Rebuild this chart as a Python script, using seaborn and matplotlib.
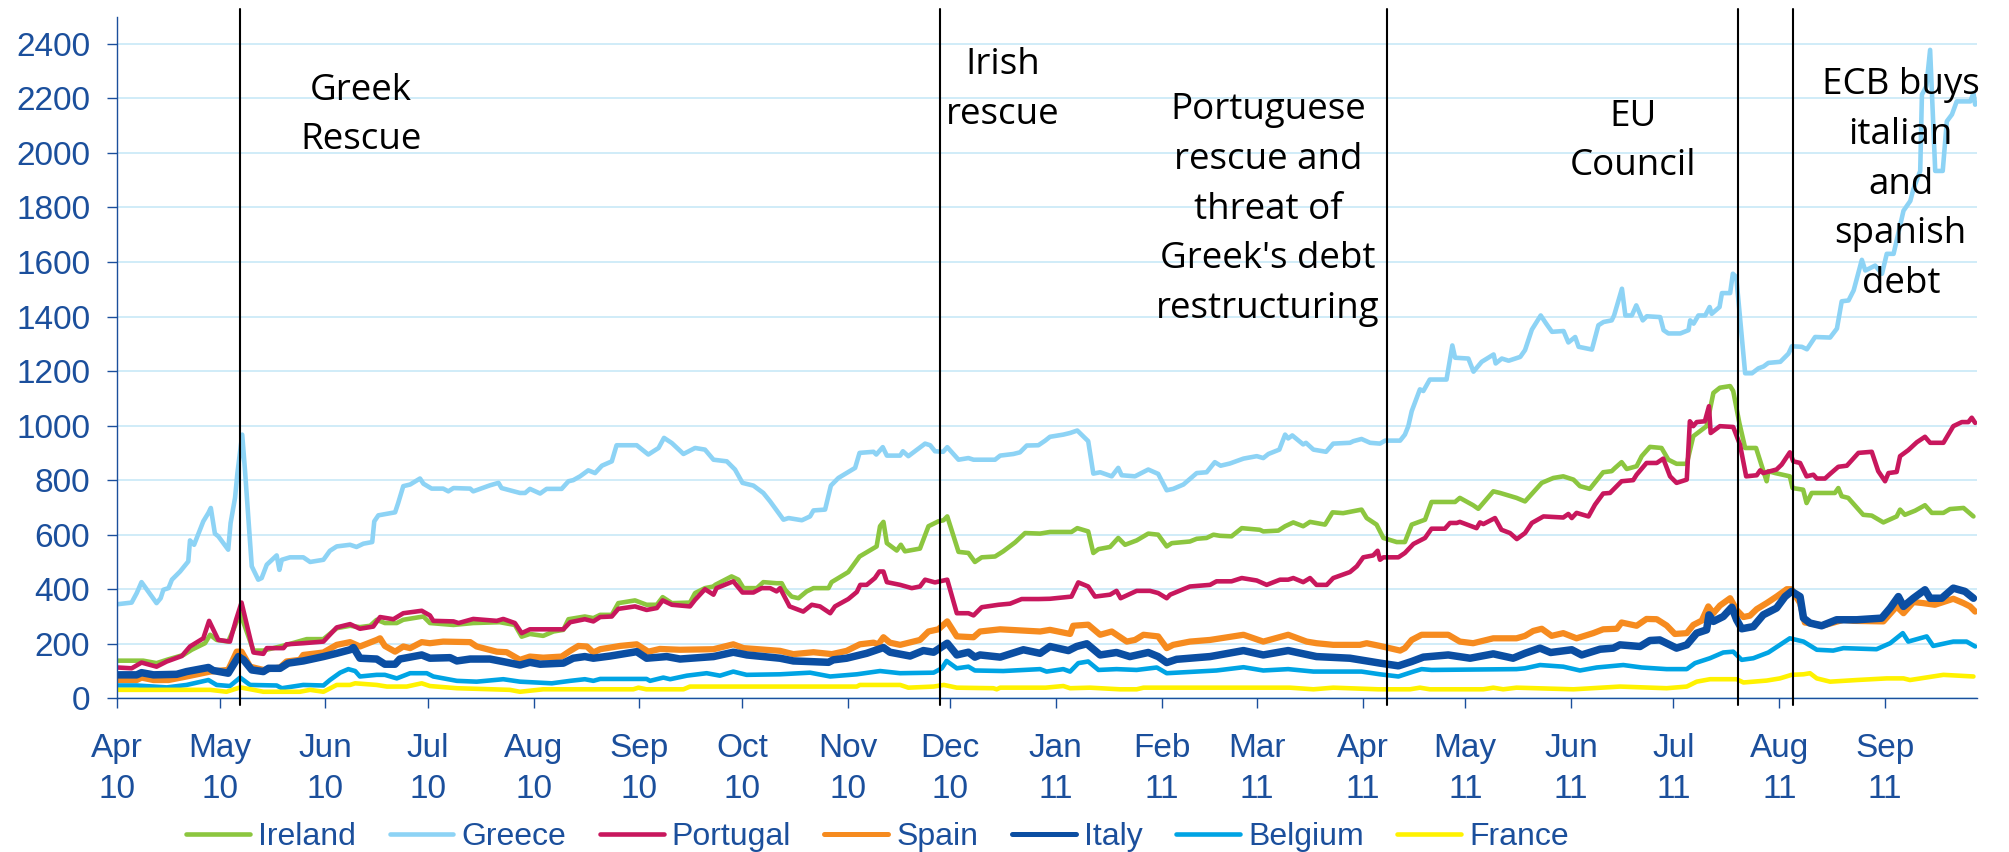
import matplotlib
matplotlib.use("Agg")
import matplotlib.pyplot as plt
import numpy as np
import pandas as pd
import seaborn as sns

# ---------------- data (day offsets from 1 Apr 2010, spread in bp) ----------------
START = "2010-04-01"
countries = ["Ireland", "Greece", "Portugal", "Spain", "Italy", "Belgium", "France"]

ireland_days = [0, 7.6, 11.5, 15, 19.4, 21.8, 25.7, 27.2, 29.1, 32.5, 34, 36, 39.9, 42.8, 49.6, 55.5, 60.4, 64.3, 68.2, 71.1, 74.1, 76, 78.4, 81.9, 83.8, 89.7, 91.6, 98.5, 104.3, 112.1, 116.5, 118.5, 120.9, 124.8, 127.8, 130.7, 132.2, 137,
                139.5, 141.5, 144.9, 146.8, 151.7, 155.1, 158.1, 159.8, 162.5, 167.8, 169.3, 172.2, 174.7, 175.2, 180, 182, 183.5, 187.4, 189.3, 193.2, 194.7, 195.7, 197.6, 199.6, 202, 204, 208.4, 209.3, 211.3, 214.2, 217.5, 222.5, 223.5, 224.5, 225.5, 228.4, 229.6, 230.8, 235.2, 237.7, 240.6, 242.1, 243.2, 246.5, 249.4, 251.3, 253.3, 257.2, 259.6, 263.1, 266, 270.4,
                273.3, 279.6, 281.3, 284.5, 286, 287.5, 290.9, 293.3, 295.3, 298.7, 302.1, 305, 307.5, 309, 314.3, 316.3, 319.2, 321.2, 323.1, 326.5, 329.5, 334.8, 335.8, 340.2, 342.2, 344.6, 347.5, 349.5, 353.9, 356.1, 359.2, 364.6, 366.1, 369, 371, 374.9, 377.3, 379.3, 383.2, 385.1, 392, 393.4, 397.3, 398.8, 403.2, 405.2, 410,
                412.5, 417.4, 420.8, 423.7, 426.7, 428.6, 431.5, 435.4, 437.9, 438.9, 440.8, 442.3, 445.2, 446.7, 449.1, 452.5, 454.5, 456.9, 459.9, 461.8, 465.7, 467.7, 469.6, 472.6, 473.5, 475.3, 477, 480.2, 483.3, 483.8, 485.8, 490.1, 490.9, 494, 495, 496.5, 503.3, 504.3, 505.3, 507.2, 511.6, 514.1, 517.5, 521.4, 522.4, 523.8, 526.8, 529.7, 531.7, 535.1, 537, 541, 543.9]
ireland_vals = [138, 138, 129, 143, 159, 178, 202, 233, 214, 208, 251, 312, 175, 175, 196, 217, 217, 257, 266, 261, 266, 288, 276, 276, 288, 300, 276, 269, 276, 279, 269, 226, 236, 229, 245, 251, 290, 300,
                294, 306, 306, 349, 359, 343, 343, 371, 349, 351, 386, 404, 410, 416, 447, 435, 404, 404, 426, 422, 422, 398, 373, 367, 392, 404, 404, 426, 441, 463, 520, 557, 631, 647, 569, 542, 563, 539, 549, 631, 649, 653, 667, 537, 533, 500, 517, 520, 539, 572, 606, 604,
                610, 610, 624, 612, 533, 547, 555, 588, 563, 579, 604, 600, 557, 569, 575, 585, 588, 600, 596, 594, 624, 618, 612, 615, 631, 645, 631, 647, 637, 682, 679, 692, 661, 637, 588, 573, 573, 637, 655, 720, 720, 735, 708, 695, 759, 753, 735,
                722, 790, 808, 814, 802, 778, 768, 829, 833, 845, 866, 841, 851, 888, 922, 918, 875, 860, 860, 961, 998, 1120, 1139, 1145, 1127, 1010, 918, 918, 796, 833, 826, 814, 771, 765, 716, 753, 753, 771, 741, 735, 673, 670, 645, 667, 692, 673, 688, 708, 680, 680, 694, 698, 667]

greece_days = [0, 4.2, 5.7, 7.1, 11.5, 12.7, 13.5, 15, 16, 18.4, 20.8, 21.3, 22.5, 25.2, 26.7, 27.4, 28.6, 29.6, 32.5, 33.2, 34.5, 35.2, 36.6, 37.4, 39.4, 41.3, 42.3, 43.8, 46.7, 47.5, 48.2, 50.6, 54.5, 56.5, 60.4, 62.3, 64.3, 68.2, 70.1, 72.1, 74.7, 75.3, 76.5, 81.4, 82.3, 83.8, 85.8, 88.7, 89.7, 92.1, 95.5, 97, 98.5, 103.4, 104.3, 109.2, 111.7, 112.6, 118, 119.5, 120.9, 123.9, 125.8, 130.2, 132.2, 133.6,
               135.6, 138, 140, 142, 144.9, 146.3, 152.2, 155.6, 158.6, 160.2, 162.5, 165.9, 169.3, 172.2, 174.7, 178.6, 181, 183.2, 186.4, 189.3, 191.3, 195.2, 196.7, 200.6, 203, 204, 207.4, 209.1, 211.3, 216.2, 217.5, 221.6, 222.4, 224.3, 225.5, 229.4, 230.2, 231.8, 236.7, 238.2, 239.6, 242, 243.2, 246.5, 249.4, 250.9, 257.2, 258.7, 262.6, 264.5, 266.5, 269.9, 271.9,
               273.3, 277.2, 279.2, 281.3, 284.5, 286, 288, 291.4, 293.3, 294.3, 298.2, 302.1, 305, 307.5, 309.4, 312.4, 316.3, 319.2, 321.6, 323.3, 326, 330, 333.9, 335.8, 337.3, 340.5, 342.2, 343.1, 344.3, 347.5, 348.3, 350.5, 354.2, 356.3, 361.2, 362.2, 364.6, 367.1, 370, 371.5, 375.9, 377.3, 378.3, 379.3, 381.7, 382.7, 384.6, 389.5, 391.2, 392,
               395.9, 397.4, 399.8, 403.3, 403.9, 405.7, 407.7, 411.1, 412.5, 414.5, 417.1, 418.7, 420.4, 423.8, 425.2, 427.2, 428.2, 432.1, 434, 435.5, 437.9, 438.6, 440.9, 441.9, 443.8, 445.1, 447, 448.2, 452.1, 453.1, 454.5, 458, 460.4, 460.9, 461.9, 463.3, 465.3, 466.6, 467.2, 469.5, 470.2, 472.6, 473.4, 474.4, 477, 479, 480.9, 482.4, 483.8, 487.3, 489.7, 490.7, 493.6, 495.1, 497.5, 501.9, 503.9, 505.3, 507.3, 508.8, 511.2, 512.2, 513.2, 515.1, 517.1, 518.5, 520.5, 523.4, 525.4, 526.3, 528.3, 528.8, 530.1, 531.2, 532.7, 534.9, 536.1, 537.6, 539, 543, 543.9, 544.4]
greece_vals = [345, 351, 386, 426, 349, 367, 398, 404, 435, 465, 502, 579, 563, 649, 680, 698, 604, 594, 545, 643, 735, 826, 967, 839, 484, 435, 441, 490, 524, 471, 508, 517, 517, 500, 508, 541, 557, 563, 555, 567, 573, 649, 671, 682, 716, 778, 784, 806, 787, 769, 769, 759, 771, 769, 759, 781, 790, 771, 753, 753, 768, 751, 768, 768, 796, 800,
               814, 836, 826, 853, 869, 928, 928, 894, 918, 955, 936, 896, 918, 912, 875, 869, 839, 790, 780, 753, 722, 655, 661, 653, 667, 689, 692, 780, 808, 845, 900, 904, 894, 921, 890, 890, 906, 888, 934, 928, 906, 904, 921, 875, 881, 875, 875, 890, 896, 902, 927, 928, 945,
               959, 967, 973, 982, 943, 824, 829, 814, 845, 818, 814, 839, 823, 763, 768, 784, 826, 829, 866, 853, 861, 879, 888, 881, 896, 912, 967, 953, 964, 931, 937, 912, 904, 934, 937, 943, 951, 937, 934, 945, 945, 967, 998, 1053, 1133, 1127, 1169, 1169, 1294, 1249,
               1246, 1198, 1234, 1261, 1228, 1246, 1238, 1252, 1277, 1352, 1404, 1374, 1344, 1347, 1305, 1325, 1289, 1279, 1368, 1380, 1386, 1404, 1502, 1404, 1404, 1441, 1386, 1401, 1398, 1350, 1338, 1338, 1350, 1386, 1374, 1404, 1404, 1435, 1410, 1435, 1486, 1486, 1557, 1545, 1192, 1192, 1210, 1217, 1230, 1234, 1264, 1291, 1289, 1280, 1325, 1323, 1356, 1456, 1459, 1496, 1608, 1569, 1575, 1587, 1557, 1630, 1630, 1788, 1824, 1867, 1934, 2214, 2244, 2378, 1934, 1934, 2116, 2141, 2189, 2189, 2220, 2177]

portugal_days = [0, 4.2, 7.1, 11.5, 14.5, 18.9, 21.3, 25.2, 26.9, 29.6, 33, 34.8, 36.4, 39.9, 42.8, 43.8, 48.7, 49.6, 54.5, 60.4, 64.3, 68.2, 71.1, 75, 77, 80.9, 83.8, 89.2, 91.6, 92.6, 98.5, 100, 104.3, 111.2, 113.1, 116.5, 118.5, 120.9, 130.7, 132.7, 137,
                 139.5, 141.5, 144.9, 146.8, 151.7, 155.1, 158.1, 159.8, 162.5, 167.8, 169.3, 172.2, 174.7, 175.6, 180.5, 183.2, 186.4, 188.8, 191.3, 193.2, 194.2, 197, 201, 203.5, 205.9, 208.9, 210.3, 214.2, 216.7, 217.7, 219.6, 222, 223.3, 224.5, 225.5, 229.4, 232.8, 235.2, 236.7, 239.6, 243.2, 246, 249.4, 250.9, 253.3, 258.2, 261.6, 265, 270,
                 273.3, 279.6, 281.6, 284.5, 286.5, 290.9, 292.8, 294, 298.7, 302.6, 305, 307.5, 308.5, 314.3, 320.2, 322.1, 326.5, 329.5, 333.9, 336.8, 340.7, 343.1, 344.6, 347.5, 349.5, 351.4, 354.4, 356.3, 361.2, 363.2, 365.1, 368, 369.3, 370, 371, 375.4, 377.3, 379.8, 383.2, 385.1, 389, 390.5, 392.5, 393.4, 398.3, 399.3, 400.3, 403.7, 405.6,
                 408.1, 410.1, 412.5, 414.5, 417.9, 423.7, 425.2, 426.2, 427.6, 431.1, 433, 435.4, 437.4, 439.4, 440.8, 444.2, 445.2, 448.1, 451.1, 453, 455, 456.9, 459.9, 460.8, 461.8, 462.8, 465.2, 466.4, 466.9, 469.6, 473.5, 475.5, 477.3, 480.4, 481.4, 482.3, 486.2, 487.7, 490.1, 491.1, 493.1, 495, 497, 498, 500.4, 501.9, 504.3, 506.8, 510.2, 514.1, 516, 518, 519, 521.4, 522.4, 524.8, 527.3, 529.7, 531.2, 535.1, 538, 540.5, 542.4, 543.4, 544.4]
portugal_vals = [113, 110, 131, 116, 135, 155, 190, 220, 284, 214, 208, 288, 351, 168, 163, 184, 184, 198, 202, 208, 260, 272, 255, 263, 298, 290, 312, 321, 304, 284, 282, 276, 291, 284, 291, 276, 239, 253, 253, 279, 290,
                 282, 298, 300, 328, 337, 324, 331, 359, 343, 337, 361, 400, 380, 404, 429, 388, 388, 404, 404, 392, 404, 337, 318, 343, 337, 312, 337, 364, 390, 416, 416, 441, 465, 465, 426, 416, 404, 410, 435, 425, 435, 312, 312, 304, 334, 343, 347, 364, 364,
                 365, 373, 425, 410, 373, 380, 394, 367, 394, 394, 386, 367, 380, 410, 416, 429, 429, 441, 432, 416, 435, 435, 441, 426, 441, 416, 416, 441, 463, 484, 517, 524, 541, 508, 517, 517, 533, 566, 588, 622, 622, 643, 643, 647, 624, 645, 639, 661, 618,
                 606, 584, 606, 643, 667, 663, 676, 661, 680, 667, 710, 751, 753, 778, 796, 800, 820, 863, 863, 879, 814, 790, 802, 1016, 998, 1013, 1016, 1071, 973, 998, 995, 930, 814, 818, 836, 826, 839, 857, 902, 869, 863, 814, 820, 806, 806, 823, 849, 853, 900, 904, 833, 796, 826, 830, 888, 910, 939, 959, 937, 937, 998, 1013, 1013, 1029, 1010]

spain_days = [0, 5.7, 7.1, 10.6, 15, 20.3, 27.2, 32.5, 35, 36.4, 38.9, 42.8, 47.7, 49.6, 53.5, 54.5, 60.4, 64.3, 68.2, 71.1, 76, 77, 78.4, 81.4, 83.8, 85.8, 89.2, 91.6, 95.5, 103.4, 105.3, 111.2, 114.1, 118, 120.9, 124.8, 130.2, 132.7, 135.1,
              137.6, 139.5, 141.5, 147.3, 152.2, 155.6, 159, 164.9, 174.7, 180.5, 183.5, 194.2, 198.1, 204, 209.4, 213.7, 217.6, 221.6, 223, 224.5, 226.4, 229.4, 233.3, 235.2, 237.7, 240.6, 243.2, 246, 250.9, 252.8, 258.7, 270.4,
              273.3, 279.2, 280.1, 284.5, 288, 291.4, 295.8, 298.2, 300.7, 305, 307.5, 309.4, 314.3, 320.2, 330, 335.8, 343.1, 348.5, 351.4, 356.3, 364.1, 366.1, 370, 375.9, 377.3, 379.3, 382.2, 390, 393.4, 397.3, 403.2, 410,
              412.5, 414.9, 417.4, 420.3, 423.7, 427.6, 432.5, 435.4, 439.4, 440.8, 445.2, 448.1, 451.1, 454, 456.4, 459.9, 461.8, 464.3, 466.2, 467.7, 469.6, 472.6, 474.5, 476.5, 478.4, 480.4, 483.3, 486.2, 489.2, 490.6, 493.1, 494.5, 499.9, 505.8, 508.7, 517.5, 521.4, 523.4, 526.3, 529.2, 532.6, 535.1, 538, 541, 542.9, 544.4]
spain_vals = [67, 67, 76, 67, 67, 80, 98, 104, 171, 171, 116, 104, 113, 135, 141, 159, 168, 196, 206, 190, 214, 220, 192, 171, 190, 184, 206, 202, 208, 206, 190, 171, 169, 141, 153, 149, 153, 174, 192,
              190, 168, 180, 192, 198, 171, 181, 178, 180, 198, 184, 174, 162, 169, 162, 174, 198, 204, 198, 224, 204, 196, 208, 214, 245, 253, 282, 227, 224, 245, 253, 245,
              251, 236, 266, 270, 233, 245, 208, 214, 233, 227, 184, 196, 208, 214, 233, 208, 233, 208, 202, 196, 196, 202, 192, 175, 184, 214, 233, 233, 208, 202, 220, 220,
              229, 247, 255, 229, 239, 220, 239, 253, 255, 278, 266, 291, 290, 267, 236, 239, 269, 285, 337, 312, 340, 367, 324, 298, 303, 327, 349, 373, 400, 400, 349, 278, 267, 288, 284, 282, 337, 312, 353, 349, 343, 353, 365, 349, 337, 318]

italy_days = [0, 5.7, 7.1, 10.6, 17.4, 20.3, 26.7, 28.1, 32.5, 35.5, 37, 39.4, 42.8, 44.3, 47.7, 50.1, 54.5, 60.4, 64.3, 68.2, 69.2, 71.1, 76, 78.4, 81.4, 82.8, 89.2, 91.6, 97.5, 99.5, 103.4, 109.2, 114.1, 118, 120.9, 123.9, 130.7, 133.6, 137,
              139.5, 144.4, 152.2, 155.1, 161, 164.9, 174.7, 180.5, 184.5, 194.2, 198.1, 208.4, 209.8, 213.7, 219.6, 224.5, 226.4, 232.3, 236.2, 239.2, 243.2, 246, 249.4, 251.3, 252.8, 258.7, 265.5, 270.4, 273.3,
              278.7, 281.1, 284.1, 288, 292.8, 296.7, 302.1, 305, 307.5, 310.4, 314.3, 320.2, 330, 335.8, 343.1, 351.4, 361.2, 370, 375.4, 379.3, 382.7, 390, 396.4, 403.2, 409,
              412.5, 416.9, 420, 426.2, 429.1, 434.5, 438.4, 440.3, 446.2, 449.1, 452, 456.9, 459.9, 462.8, 465.7, 466.4, 467.7, 470.6, 473.1, 474.5, 476, 479.4, 482.3, 486.2, 488.7, 490.6, 493.1, 494.1, 496, 499.4, 503.8, 509.7, 517, 519.5, 521.9, 523.4, 526.3, 529.7, 531.2, 534.6, 538, 541.4, 543.9]
italy_vals = [86, 86, 94, 86, 88, 98, 113, 102, 92, 153, 141, 104, 98, 110, 110, 129, 137, 153, 165, 178, 186, 147, 144, 125, 125, 144, 159, 147, 149, 137, 144, 144, 132, 122, 132, 125, 129, 147, 153,
              147, 155, 171, 147, 153, 144, 153, 169, 159, 147, 137, 132, 141, 147, 165, 186, 169, 155, 175, 169, 202, 159, 169, 151, 159, 151, 178, 165, 190,
              175, 190, 200, 159, 168, 153, 168, 153, 131, 143, 147, 153, 175, 159, 175, 153, 147, 129, 119, 135, 151, 159, 147, 163, 147,
              165, 184, 168, 178, 159, 180, 184, 196, 190, 212, 214, 184, 196, 239, 251, 306, 282, 300, 334, 288, 255, 263, 306, 331, 373, 392, 373, 294, 276, 266, 288, 288, 294, 331, 373, 337, 367, 398, 367, 367, 404, 392, 367]

belgium_days = [0, 5.7, 14.5, 20.3, 26.7, 29.1, 33, 36, 38.9, 46.7, 48.2, 54.5, 60.4, 62.3, 65.3, 67.7, 69.7, 71.1, 76, 78.4, 81.9, 85.8, 90.7, 92.6, 99.5, 105.3, 113.1, 118, 127.3, 132.7, 137,
                139.5, 141.5, 155.1, 156.1, 160, 162, 166.9, 172.7, 176.6, 180.5, 184.4, 194.2, 203, 208.9, 216.7, 223.5, 229.4, 239.2, 241.6, 243, 246, 249.4, 251.3, 259.6, 270.4, 272.3,
                277.2, 279.2, 281.6, 284.5, 287.5, 292.8, 298.7, 304.6, 307.5, 322.1, 330, 335.8, 343.1, 350.5, 364.6, 370, 375.4, 379.8, 382.2, 385.1, 410,
                412.5, 416.9, 423.7, 428.6, 433.5, 441.3, 446.7, 454, 459.9, 462.3, 466.7, 470.6, 473.5, 476, 479.4, 483.8, 487.2, 490.1, 494.1, 498, 502.8, 505.8, 515.5, 519.5, 523.2, 524.8, 530.2, 532.1, 538, 541.9, 544.4]
belgium_vals = [47, 47, 40, 49, 67, 49, 45, 76, 49, 47, 37, 49, 47, 67, 94, 107, 100, 80, 86, 86, 73, 92, 92, 80, 64, 61, 70, 61, 55, 64, 70,
                64, 71, 71, 64, 76, 70, 83, 92, 83, 98, 86, 88, 94, 80, 88, 100, 92, 94, 110, 137, 110, 116, 102, 100, 107, 98,
                107, 98, 129, 135, 104, 107, 104, 113, 92, 102, 114, 102, 107, 98, 98, 88, 80, 98, 107, 104, 107,
                110, 122, 116, 102, 113, 122, 113, 107, 107, 129, 147, 168, 171, 141, 147, 168, 196, 220, 208, 178, 175, 184, 180, 202, 239, 208, 227, 192, 208, 208, 190]

france_days = [0, 27.2, 32, 36, 39.9, 42.8, 53.5, 56.5, 60.4, 64.3, 68.2, 69.7, 76, 79, 84.8, 89.2, 91.6, 99.5, 115, 118, 124.8, 137,
               151.2, 152.7, 155, 165.9, 167.8, 216.7, 217.6, 229.4, 231.8, 239.2, 242.2, 246, 256.7, 257.7, 258.7, 272,
               277.2, 279.2, 285, 293.8, 298.7, 300.7, 343.6, 350.5, 356.3, 369.5, 378.8, 381.7, 384.6, 400.3, 403.2, 406.1, 410,
               426.7, 440.3, 454, 459.9, 462.8, 466.7, 474.5, 476.5, 483.3, 487.2, 490.6, 494.1, 496, 498, 501.9, 509.7, 518.5, 523.4, 525.3, 535.1, 543.9]
france_vals = [31, 31, 24, 40, 31, 24, 24, 31, 24, 49, 49, 55, 49, 43, 43, 55, 45, 37, 31, 24, 33, 33,
               33, 39, 33, 33, 43, 43, 49, 49, 39, 43, 49, 39, 37, 33, 39, 39,
               45, 37, 39, 33, 33, 39, 39, 33, 39, 33, 33, 39, 33, 33, 39, 33, 39,
               33, 43, 37, 43, 61, 70, 70, 58, 65, 73, 86, 88, 92, 73, 61, 67, 73, 73, 67, 86, 80]

series_days = [ireland_days, greece_days, portugal_days, spain_days, italy_days, belgium_days, france_days]
series_vals = [ireland_vals, greece_vals, portugal_vals, spain_vals, italy_vals, belgium_vals, france_vals]

event_dates = ["2010-05-07", "2010-11-28", "2011-04-08", "2011-07-20", "2011-08-05"]
event_texts = ["Greek\nRescue", "Irish\nrescue",
               "Portuguese\nrescue and\nthreat of\nGreek's debt\nrestructuring",
               "EU\nCouncil", "ECB buys\nitalian\nand\nspanish\ndebt"]

tick_months = pd.date_range("2010-04-01", "2011-09-01", freq="MS")
tick_labels = ["Apr\n10", "May\n10", "Jun\n10", "Jul\n10", "Aug\n10", "Sep\n10", "Oct\n10",
               "Nov\n10", "Dec\n10", "Jan\n11", "Feb\n11", "Mar\n11", "Apr\n11", "May\n11",
               "Jun\n11", "Jul\n11", "Aug\n11", "Sep\n11"]
y_ticks = list(range(0, 2401, 200))

# ---------------- styling ----------------
colors = {"Ireland": "#8CC63F", "Greece": "#8DD3F5", "Portugal": "#C8175D", "Spain": "#F68B1F",
          "Italy": "#0B4EA2", "Belgium": "#00A4E4", "France": "#FFF200"}
widths = {"Ireland": 3.3, "Greece": 3.3, "Portugal": 3.3, "Spain": 4.5,
          "Italy": 5.4, "Belgium": 3.3, "France": 3.3}
BLUE = "#1B4F9C"

sns.set_style("white")
plt.rcParams["font.family"] = ["Liberation Sans", "DejaVu Sans"]

start = pd.Timestamp(START)
frames = []
for c, d, v in zip(countries, series_days, series_vals):
    frames.append(pd.DataFrame({"date": start + pd.to_timedelta(np.array(d, dtype=float), unit="D"),
                                "spread": v, "country": c}))
df = pd.concat(frames, ignore_index=True)

W, H = 2009, 852
fig = plt.figure(figsize=(W / 100, H / 100), dpi=100)
ax_l, ax_r, ax_b, ax_t = 117.3, 1977.2, 698.3, 16.6
ax = fig.add_axes([ax_l / W, 1 - ax_b / H, (ax_r - ax_l) / W, (ax_b - ax_t) / H])

sns.lineplot(data=df, x="date", y="spread", hue="country", size="country",
             hue_order=countries, size_order=countries, palette=colors, sizes=widths,
             estimator=None, sort=False, legend=False, ax=ax)
handles = list(ax.lines[:len(countries)])
for ln in handles:
    ln.set_solid_joinstyle("round")
    ln.set_solid_capstyle("round")

ax.set_xlim(pd.Timestamp("2010-04-01"), pd.Timestamp("2010-04-01") + pd.Timedelta(days=545))
ax.set_ylim(0, 2500)
ax.set_xlabel("")
ax.set_ylabel("")

ax.set_yticks(y_ticks)
ax.set_yticklabels([str(t) for t in y_ticks])
ax.set_xticks(tick_months)
ax.set_xticklabels(tick_labels, linespacing=1.42)

ax.tick_params(axis="x", length=7, width=1.0, color=BLUE, pad=18, labelsize=24, labelcolor=BLUE, direction="out")
ax.tick_params(axis="y", length=7.4, width=1.0, color=BLUE, pad=12, labelsize=24, labelcolor=BLUE, direction="out")
ax.tick_params(bottom=True, left=True)

ax.yaxis.grid(True, color="#C4E7F6", linewidth=1.1)
ax.xaxis.grid(False)
ax.set_axisbelow(True)
for s in ["top", "right"]:
    ax.spines[s].set_visible(False)
for s in ["left", "bottom"]:
    ax.spines[s].set_color(BLUE)
    ax.spines[s].set_linewidth(1.0)

for dt in event_dates:
    ax.axvline(pd.Timestamp(dt), ymin=-0.01, ymax=1.011, color="black", lw=1.5,
               clip_on=False, zorder=5)

text_pos = [(0.1310, 0.9177), (0.4762, 0.9550), (0.6187, 0.8894), (0.8152, 0.8796), (0.9589, 0.9261)]
for (tx, ty), t in zip(text_pos, event_texts):
    ax.text(tx, ty, t, transform=ax.transAxes, ha="center", va="top", multialignment="center",
            fontsize=26.5, family=["Open Sans", "DejaVu Sans"], color="black",
            linespacing=1.51, zorder=6)

leg = fig.legend(handles, countries, loc="center", bbox_to_anchor=(877.5 / W, 1 - 836.7 / H),
                 ncol=7, frameon=False, fontsize=23, handlelength=2.0, handletextpad=0.25,
                 columnspacing=1.05, labelcolor=BLUE, borderaxespad=0, borderpad=0)
for lh in leg.get_lines():
    lh.set_linewidth(min(lh.get_linewidth(), 3.6))

fig.savefig("out.png", dpi=100)
